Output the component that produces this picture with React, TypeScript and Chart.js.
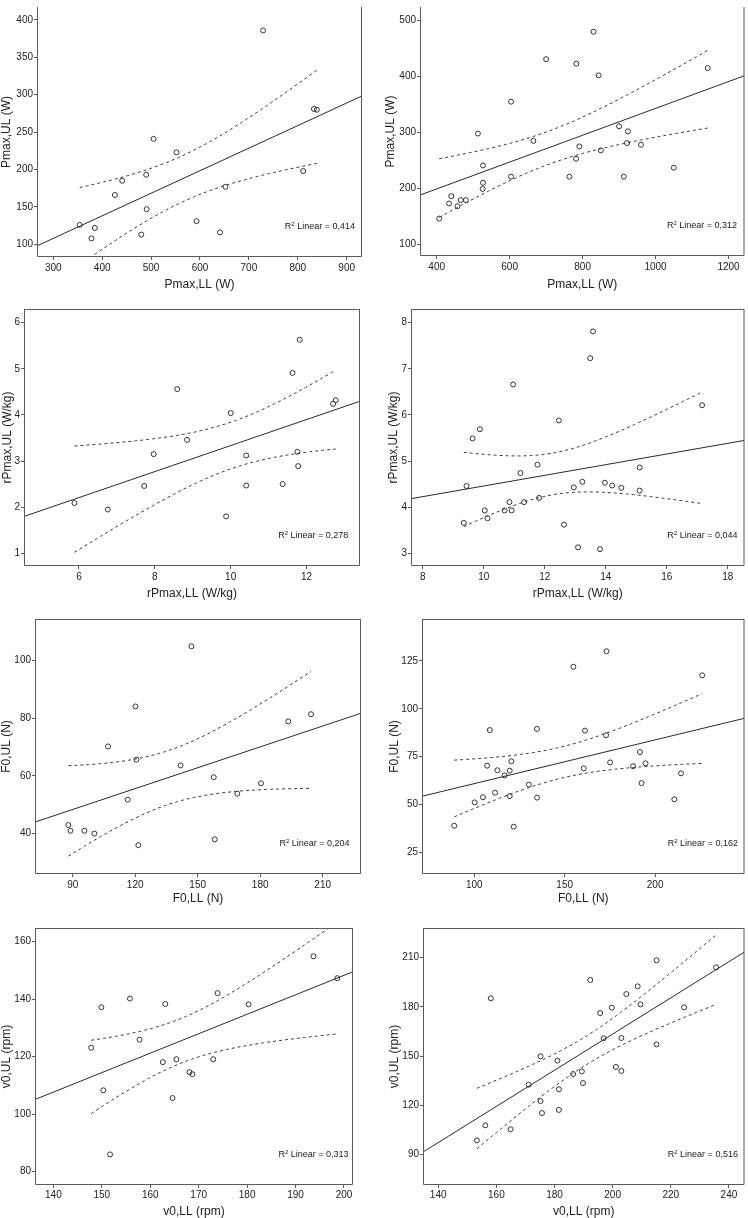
import React, { useEffect, useRef } from 'react';
import { Chart, registerables } from 'chart.js';

Chart.register(...registerables);

const FONT = 'Arial, "Liberation Sans", Helvetica, sans-serif';

// ---------- Data ----------
// Panel 1: Pmax (group 1)
const p1X = [354, 378, 385, 426, 441, 490, 491, 480, 505, 552, 593, 641, 652, 729, 811, 833, 839];
const p1Y = [126, 108, 122, 166, 185, 193, 147, 113, 241, 223, 131, 116, 177, 386, 198, 281, 280];
const p1XTicks = [300, 400, 500, 600, 700, 800, 900];
const p1YTicks = [100, 150, 200, 250, 300, 350, 400];

// Panel 2: Pmax (group 2)
const p2X = [407, 434, 440, 457, 466, 480, 513, 527, 527, 526, 604, 604, 665, 700, 764, 782, 783, 791, 830, 844, 850, 900, 913, 922, 924, 960, 1050, 1143];
const p2Y = [146, 173, 186, 168, 179, 179, 298, 241, 210, 199, 355, 221, 285, 431, 221, 253, 423, 275, 480, 402, 268, 311, 221, 281, 302, 278, 237, 415];
const p2XTicks = [400, 600, 800, 1000, 1200];
const p2YTicks = [100, 200, 300, 400, 500];

// Panel 3: rPmax (group 1)
const p3X = [5.88, 6.76, 7.72, 7.97, 8.59, 8.85, 9.88, 10.0, 10.41, 10.41, 11.37, 11.63, 11.76, 11.78, 11.82, 12.7, 12.77];
const p3Y = [2.09, 1.95, 2.46, 3.15, 4.56, 3.46, 1.8, 4.04, 3.12, 2.47, 2.5, 4.91, 3.2, 2.89, 5.63, 4.24, 4.32];
const p3XTicks = [6, 8, 10, 12];
const p3YTicks = [1, 2, 3, 4, 5, 6];

// Panel 4: rPmax (group 2)
const p4X = [9.34, 9.43, 9.63, 9.87, 10.03, 10.12, 10.68, 10.84, 10.91, 10.96, 11.2, 11.32, 11.76, 11.81, 12.46, 12.63, 12.95, 13.09, 13.23, 13.49, 13.58, 13.81, 13.97, 14.21, 14.51, 15.11, 15.11, 17.16];
const p4Y = [3.66, 4.46, 5.49, 5.69, 3.93, 3.76, 3.93, 4.11, 3.93, 6.66, 4.74, 4.11, 4.92, 4.2, 5.88, 3.62, 4.43, 3.13, 4.55, 7.23, 7.81, 3.09, 4.53, 4.47, 4.42, 4.86, 4.36, 6.21];
const p4XTicks = [8, 10, 12, 14, 16, 18];
const p4YTicks = [3, 4, 5, 6, 7, 8];

// Panel 5: F0 (group 1)
const p5X = [87.9, 88.9, 95.6, 100.4, 107.0, 116.4, 120.1, 120.6, 121.5, 141.8, 147.0, 157.7, 158.2, 169.0, 180.4, 193.5, 204.4];
const p5Y = [42.9, 40.9, 40.9, 39.9, 70.2, 51.7, 84.1, 65.6, 35.9, 63.6, 105.0, 59.5, 37.9, 53.8, 57.4, 78.9, 81.4];
const p5XTicks = [90, 120, 150, 180, 210];
const p5YTicks = [40, 60, 80, 100];

// Panel 6: F0 (group 2)
const p6X = [88.9, 100.2, 104.8, 107.1, 108.6, 111.5, 112.8, 116.8, 119.6, 119.6, 120.5, 121.8, 130.2, 134.6, 134.7, 154.8, 160.5, 161.2, 172.9, 173.1, 175.1, 187.8, 191.6, 192.5, 194.7, 210.6, 214.3, 226.0];
const p6Y = [38.9, 51.1, 53.8, 70.3, 88.9, 56.2, 67.9, 65.2, 67.7, 54.4, 72.6, 38.4, 60.4, 89.5, 53.6, 122.0, 68.9, 88.6, 86.2, 130.1, 72.0, 70.0, 77.4, 61.2, 71.5, 52.7, 66.3, 117.5];
const p6XTicks = [100, 150, 200];
const p6YTicks = [25, 50, 75, 100, 125];

// Panel 7: v0 (group 1)
const p7X = [147.8, 149.9, 150.3, 151.7, 155.8, 157.8, 162.6, 163.1, 164.6, 165.4, 168.1, 168.7, 173.0, 173.9, 180.3, 193.7, 198.6];
const p7Y = [123.1, 137.2, 108.3, 86.0, 140.2, 125.9, 118.1, 138.3, 105.6, 119.1, 114.6, 113.9, 119.1, 142.1, 138.2, 154.9, 147.3];
const p7XTicks = [140, 150, 160, 170, 180, 190, 200];
const p7YTicks = [80, 100, 120, 140, 160];

// Panel 8: v0 (group 2)
const p8X = [153.3, 156.2, 158.1, 164.9, 171.1, 175.2, 175.2, 175.7, 181.0, 181.5, 181.5, 186.4, 189.4, 189.8, 192.3, 195.7, 196.9, 199.7, 201.1, 203.0, 203.0, 204.7, 208.6, 209.6, 215.1, 215.1, 224.6, 235.6];
const p8Y = [98.5, 107.7, 185.2, 105.3, 132.5, 122.5, 149.8, 115.2, 147.2, 129.7, 117.1, 139.0, 140.6, 133.5, 196.4, 176.2, 160.8, 179.5, 143.3, 161.0, 140.9, 187.8, 192.5, 181.5, 208.4, 157.1, 179.7, 204.1];
const p8XTicks = [140, 160, 180, 200, 220, 240];
const p8YTicks = [90, 120, 150, 180, 210];

const xTitles = ['Pmax,LL (W)', 'Pmax,LL (W)', 'rPmax,LL (W/kg)', 'rPmax,LL (W/kg)', 'F0,LL (N)', 'F0,LL (N)', 'v0,LL (rpm)', 'v0,LL (rpm)'];
const yTitles = ['Pmax,UL (W)', 'Pmax,UL (W)', 'rPmax,UL (W/kg)', 'rPmax,UL (W/kg)', 'F0,UL (N)', 'F0,UL (N)', 'v0,UL (rpm)', 'v0,UL (rpm)'];
const r2Labels = ['0,414', '0,312', '0,278', '0,044', '0,204', '0,162', '0,313', '0,516'];

// Student t (two-sided 95%) by degrees of freedom
const T95: Record<number, number> = { 15: 2.1314, 26: 2.0555 };

// ---------- Layout ----------
type Cfg = {
  left: number; top: number; w: number; h: number;
  pl: number; pr: number; pt: number; pb: number;
  xMin: number; xMax: number; yMin: number; yMax: number;
  xs: number[]; ys: number[]; xTicks: number[]; yTicks: number[];
  idx: number; xTitlePad: number; yTitlePad: number; xTickPad: number; r2Right: number;
};

const panels: Cfg[] = [
  { left: 0, top: 0, w: 374, h: 300, pl: 37, pr: 362, pt: 0, pb: 257, xMin: 266.7, xMax: 931.3, yMin: 83.1, yMax: 417.3, xs: p1X, ys: p1Y, xTicks: p1XTicks, yTicks: p1YTicks, idx: 0, xTitlePad: 7.8, yTitlePad: -0.5, xTickPad: 2, r2Right: 7 },
  { left: 374, top: 0, w: 374, h: 300, pl: 46, pr: 371, pt: 0, pb: 256, xMin: 354.3, xMax: 1243.8, yMin: 79.1, yMax: 524.3, xs: p2X, ys: p2Y, xTicks: p2XTicks, yTicks: p2YTicks, idx: 1, xTitlePad: 7.8, yTitlePad: 9.5, xTickPad: 2, r2Right: 7.4 },
  { left: 0, top: 300, w: 374, h: 305, pl: 24, pr: 360, pt: 9, pb: 266, xMin: 4.55, xMax: 13.41, yMin: 0.725, yMax: 6.296, xs: p3X, ys: p3Y, xTicks: p3XTicks, yTicks: p3YTicks, idx: 2, xTitlePad: 4.5, yTitlePad: 0.1, xTickPad: 2.3, r2Right: 11.7 },
  { left: 374, top: 300, w: 374, h: 305, pl: 37, pr: 373, pt: 9, pb: 266, xMin: 7.61, xMax: 18.55, yMin: 2.725, yMax: 8.296, xs: p4X, ys: p4Y, xTicks: p4XTicks, yTicks: p4YTicks, idx: 3, xTitlePad: 4.5, yTitlePad: 12.1, xTickPad: 2.3, r2Right: 7 },
  { left: 0, top: 605, w: 374, h: 305, pl: 35, pr: 361, pt: 14, pb: 269, xMin: 71.9, xMax: 228.4, yMin: 25.87, yMax: 114.48, xs: p5X, ys: p5Y, xTicks: p5XTicks, yTicks: p5YTicks, idx: 4, xTitlePad: 3.8, yTitlePad: -0.5, xTickPad: 2.3, r2Right: 11.4 },
  { left: 374, top: 605, w: 374, h: 305, pl: 48, pr: 373, pt: 14, pb: 269, xMin: 71.1, xMax: 249.4, yMin: 13.68, yMax: 146.95, xs: p6X, ys: p6Y, xTicks: p6XTicks, yTicks: p6YTicks, idx: 5, xTitlePad: 3.8, yTitlePad: 13.5, xTickPad: 2.3, r2Right: 6.6 },
  { left: 0, top: 910, w: 374, h: 308, pl: 35, pr: 353, pt: 18, pb: 275, xMin: 136.2, xMax: 201.86, yMin: 75.36, yMax: 164.75, xs: p7X, ys: p7Y, xTicks: p7XTicks, yTicks: p7YTicks, idx: 6, xTitlePad: -0.9, yTitlePad: -0.5, xTickPad: 1, r2Right: 4.4 },
  { left: 374, top: 910, w: 374, h: 308, pl: 49, pr: 373, pt: 18, pb: 275, xMin: 134.77, xMax: 245.35, yMin: 71.29, yMax: 228.1, xs: p8X, ys: p8Y, xTicks: p8XTicks, yTicks: p8YTicks, idx: 7, xTitlePad: -0.9, yTitlePad: 13.5, xTickPad: 1, r2Right: 6.6 },
];

// ---------- Statistics (linear fit and 95% CI of the mean) ----------
function linFit(xs: number[], ys: number[]) {
  const n = xs.length;
  const mx = xs.reduce((a, b) => a + b, 0) / n;
  const my = ys.reduce((a, b) => a + b, 0) / n;
  let sxx = 0, sxy = 0, syy = 0;
  for (let i = 0; i < n; i++) {
    const dx = xs[i] - mx, dy = ys[i] - my;
    sxx += dx * dx; sxy += dx * dy; syy += dy * dy;
  }
  const b = sxy / sxx;
  const a = my - b * mx;
  const s = Math.sqrt(Math.max(syy - b * sxy, 0) / (n - 2));
  const t = T95[n - 2] ?? 2.05;
  return {
    at: (x: number) => a + b * x,
    half: (x: number) => t * s * Math.sqrt(1 / n + ((x - mx) * (x - mx)) / sxx),
  };
}

const framePlugin = {
  id: 'spssFrame',
  afterDraw(chart: any, _args: any, opts: any) {
    const { ctx, chartArea: a } = chart;
    ctx.save();
    ctx.strokeStyle = '#5a5a5a';
    ctx.lineWidth = 1;
    const l = a.left + 0.5, r = a.right - 0.5, t = a.top + 0.5, b = a.bottom - 0.5;
    ctx.beginPath();
    if (opts.top) {
      ctx.moveTo(l, t); ctx.lineTo(r, t);
    }
    ctx.moveTo(r, a.top); ctx.lineTo(r, b);
    ctx.lineTo(l, b);
    ctx.lineTo(l, a.top);
    ctx.stroke();
    // R² label
    const y = a.bottom - 30;
    const main = '\u00a0Linear = ' + opts.r2;
    ctx.fillStyle = '#222';
    ctx.textBaseline = 'middle';
    ctx.font = `9px ${FONT}`;
    const wR = ctx.measureText('R').width;
    const wMain = ctx.measureText(main).width;
    ctx.font = `6px ${FONT}`;
    const w2 = ctx.measureText('2').width;
    let x = a.right - opts.right - (wR + w2 + wMain);
    ctx.font = `9px ${FONT}`;
    ctx.textAlign = 'left';
    ctx.fillText('R', x, y);
    x += wR;
    ctx.font = `6px ${FONT}`;
    ctx.fillText('2', x, y - 3);
    x += w2;
    ctx.font = `9px ${FONT}`;
    ctx.fillText(main, x, y);
    ctx.restore();
  },
};

function Panel({ cfg }: { cfg: Cfg }) {
  const ref = useRef<HTMLCanvasElement>(null);
  useEffect(() => {
    if (!ref.current) return;
    const f = linFit(cfg.xs, cfg.ys);
    const dMin = Math.min(...cfg.xs);
    const dMax = Math.max(...cfg.xs);
    const steps = 60;
    const upper: { x: number; y: number }[] = [];
    const lower: { x: number; y: number }[] = [];
    for (let i = 0; i <= steps; i++) {
      const x = dMin + ((dMax - dMin) * i) / steps;
      upper.push({ x, y: f.at(x) + f.half(x) });
      lower.push({ x, y: f.at(x) - f.half(x) });
    }
    const fitLine = [
      { x: cfg.xMin, y: f.at(cfg.xMin) },
      { x: cfg.xMax, y: f.at(cfg.xMax) },
    ];
    const points = cfg.xs.map((x, i) => ({ x, y: cfg.ys[i] }));

    const tickFont = { family: FONT, size: 10 };
    const titleFont = { family: FONT, size: 12 };
    const gridCfg = { drawOnChartArea: false, drawTicks: true, tickLength: 3, color: '#5a5a5a', lineWidth: 1 };
    const plain = (v: any) => String(v);

    const chart = new Chart(ref.current, {
      type: 'scatter',
      data: {
        datasets: [
          { type: 'line', data: fitLine, borderColor: '#2a2a2a', borderWidth: 1, pointRadius: 0, fill: false, clip: 0 } as any,
          { type: 'line', data: upper, borderColor: '#3a3a3a', borderWidth: 1, borderDash: [3, 3], pointRadius: 0, fill: false, clip: 0 } as any,
          { type: 'line', data: lower, borderColor: '#3a3a3a', borderWidth: 1, borderDash: [3, 3], pointRadius: 0, fill: false, clip: 0 } as any,
          { type: 'scatter', data: points, pointRadius: 2.5, pointHoverRadius: 2.5, borderColor: '#333', borderWidth: 1, backgroundColor: 'rgba(255,255,255,0)' } as any,
        ],
      },
      options: {
        responsive: false,
        animation: false,
        devicePixelRatio: 1,
        events: [],
        layout: { padding: { top: cfg.pt, right: cfg.w - cfg.pr, left: 0, bottom: 0 } },
        plugins: {
          legend: { display: false },
          tooltip: { enabled: false },
          spssFrame: { r2: r2Labels[cfg.idx], right: cfg.r2Right, top: cfg.pt > 0 },
        } as any,
        scales: {
          x: {
            type: 'linear',
            min: cfg.xMin,
            max: cfg.xMax,
            afterFit: (s: any) => { s.height = cfg.h - cfg.pb; },
            afterBuildTicks: (s: any) => { s.ticks = cfg.xTicks.map((v) => ({ value: v })); },
            grid: gridCfg,
            border: { display: false },
            ticks: { font: tickFont, color: '#222', padding: cfg.xTickPad, maxRotation: 0, autoSkip: false, callback: plain },
            title: { display: true, text: xTitles[cfg.idx], font: titleFont, color: '#222', padding: { top: 0, bottom: cfg.xTitlePad } },
          },
          y: {
            type: 'linear',
            min: cfg.yMin,
            max: cfg.yMax,
            afterFit: (s: any) => { s.width = cfg.pl; },
            afterBuildTicks: (s: any) => { s.ticks = cfg.yTicks.map((v) => ({ value: v })); },
            grid: gridCfg,
            border: { display: false },
            ticks: { font: tickFont, color: '#222', padding: 1, autoSkip: false, callback: plain },
            title: { display: true, text: yTitles[cfg.idx], font: titleFont, color: '#222', padding: { top: cfg.yTitlePad, bottom: 0 } },
          },
        },
      } as any,
      plugins: [framePlugin],
    });
    return () => chart.destroy();
  }, [cfg]);
  return (
    <canvas
      ref={ref}
      width={cfg.w}
      height={cfg.h}
      style={{ position: 'absolute', left: cfg.left, top: cfg.top, width: cfg.w, height: cfg.h }}
    />
  );
}

export default function App() {
  return (
    <div style={{ position: 'absolute', left: 0, top: 0, width: 748, height: 1218, background: '#fff', overflow: 'hidden' }}>
      {panels.map((p) => (
        <Panel key={p.idx} cfg={p} />
      ))}
    </div>
  );
}
